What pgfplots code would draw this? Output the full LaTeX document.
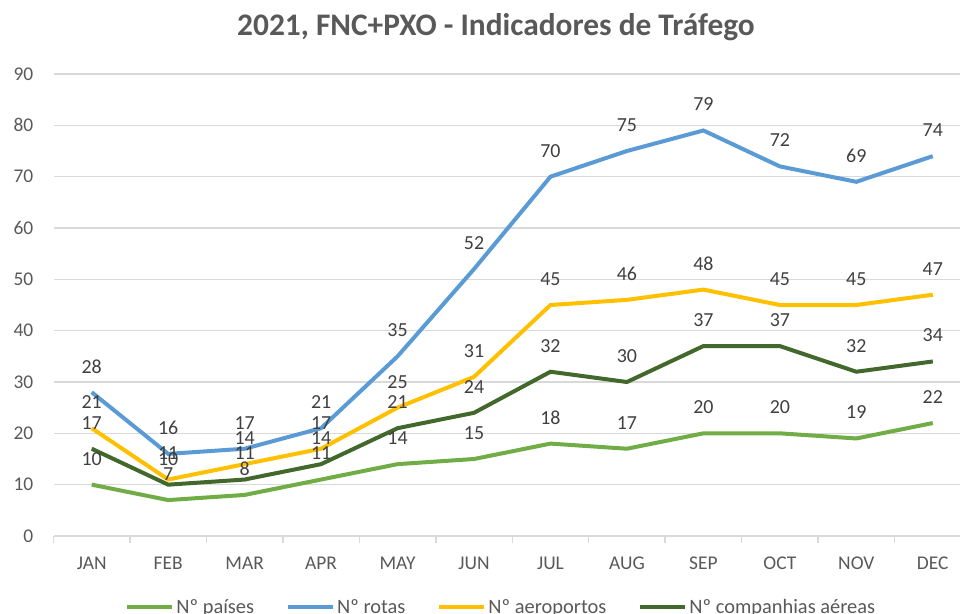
\documentclass[border=0pt]{standalone}
\usepackage{pgfplots}
\pgfplotsset{compat=1.18}
\usepackage{fontspec}
\setmainfont{Carlito}

\definecolor{cpaises}{HTML}{70AD47}
\definecolor{crotas}{HTML}{5B9BD5}
\definecolor{caero}{HTML}{FFC000}
\definecolor{ccomp}{HTML}{43682B}
\definecolor{gridc}{HTML}{D9D9D9}
\definecolor{tickc}{HTML}{595959}
\definecolor{labc}{HTML}{404040}

% month index, values per series
\pgfplotstableread{
m paises rotas aero comp
0 10 28 21 17
1 7 16 11 10
2 8 17 14 11
3 11 21 17 14
4 14 35 25 21
5 15 52 31 24
6 18 70 45 32
7 17 75 46 30
8 20 79 48 37
9 20 72 45 37
10 19 69 45 32
11 22 74 47 34
}\traffic

\begin{document}
\begin{tikzpicture}[x=1bp,y=1bp]
\begin{axis}[
    at={(53.5bp,78bp)}, anchor=south west,
    scale only axis,
    width=917.5bp, height=462bp,
    xmin=-0.5, xmax=11.5,
    ymin=0, ymax=90,
    ytick={0,10,...,90},
    xtick={-0.5,0.5,...,11.5},
    x tick label as interval,
    xticklabels={JAN,FEB,MAR,APR,MAY,JUN,JUL,AUG,SEP,OCT,NOV,DEC},
    axis line style={draw=none},
    ymajorgrids,
    grid style={gridc, line width=1.5bp},
    ytick style={draw=none},
    xtick pos=lower,
    tick align=outside,
    major tick length=7bp,
    xtick style={gridc, line width=1.5bp},
    tick label style={font=\fontsize{19.5}{22}\selectfont, text=tickc},
    /pgf/number format/assume math mode=true,
    yticklabel style={anchor=east, inner sep=0pt, xshift=-13bp},
    xticklabel style={anchor=base, inner sep=0pt, yshift=-26bp},
    clip=false,
    legend columns=4,
    legend style={at={(axis description cs:0.5,0)}, anchor=center,
        xshift=-11bp, yshift=-71bp, draw=none, fill=none,
        font=\fontsize{20.5}{22}\selectfont, text=tickc,
        /tikz/every even column/.append style={column sep=30bp}},
    legend image code/.code={\draw[#1, line width=4bp] (0bp,0bp) -- (45bp,0bp);},
    every node near coord/.append style={anchor=center, yshift=26bp,
        font=\fontsize{20}{22}\selectfont, text=labc},
]
\addplot[cpaises, line width=4bp] table[x=m, y=paises] {\traffic};
\addlegendentry{Nº países}
\addplot[crotas, line width=4bp] table[x=m, y=rotas] {\traffic};
\addlegendentry{Nº rotas}
\addplot[caero, line width=4bp] table[x=m, y=aero] {\traffic};
\addlegendentry{Nº aeroportos}
\addplot[ccomp, line width=4bp] table[x=m, y=comp] {\traffic};
\addlegendentry{Nº companhias aéreas}

% data labels on top of every line
\addplot[draw=none, forget plot, nodes near coords] table[x=m, y=paises] {\traffic};
\addplot[draw=none, forget plot, nodes near coords] table[x=m, y=rotas] {\traffic};
\addplot[draw=none, forget plot, nodes near coords] table[x=m, y=aero] {\traffic};
\addplot[draw=none, forget plot, nodes near coords] table[x=m, y=comp] {\traffic};
\end{axis}
\node[font=\bfseries\fontsize{31.5}{36}\selectfont, text=tickc] at (496bp,587bp)
    {2021, FNC+PXO - Indicadores de Tráfego};
\pgfresetboundingbox
\path[use as bounding box] (0bp,0bp) rectangle (960bp,614bp);
\end{tikzpicture}
\end{document}
